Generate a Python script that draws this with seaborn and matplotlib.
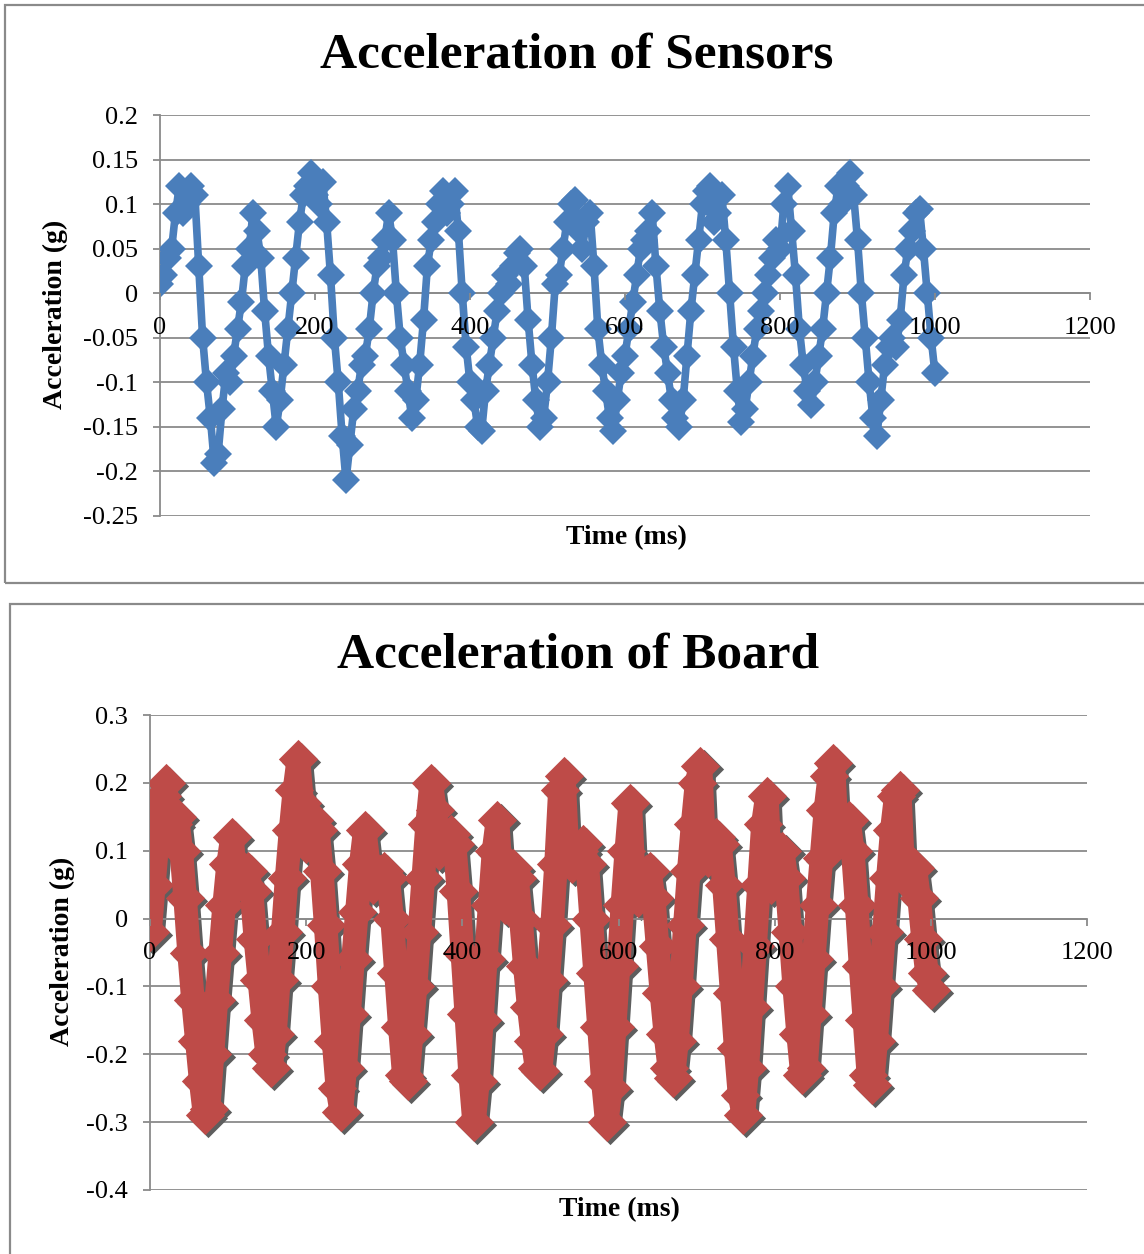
import numpy as np
import pandas as pd
import matplotlib
matplotlib.use("Agg")
import matplotlib.pyplot as plt
from matplotlib.patches import Rectangle
from matplotlib.collections import PathCollection
from matplotlib.transforms import ScaledTranslation
import seaborn as sns

# ---- data -------------------------------------------------------------
time_ms = np.arange(0, 1001, 5)

sensor_accel = [
    0.01, 0.02, 0.04, 0.05, 0.09, 0.12, 0.09, 0.10, 0.12, 0.11,
    0.03, -0.05, -0.10, -0.14, -0.19, -0.18, -0.13, -0.09, -0.10, -0.07,
    -0.04, -0.01, 0.03, 0.05, 0.09, 0.07, 0.04, -0.02, -0.07, -0.11,
    -0.15, -0.12, -0.08, -0.04, 0.00, 0.04, 0.08, 0.11, 0.12, 0.135,
    0.11, 0.10, 0.125, 0.08, 0.02, -0.05, -0.10, -0.16, -0.21, -0.17,
    -0.13, -0.11, -0.08, -0.07, -0.04, 0.00, 0.03, 0.04, 0.06, 0.09,
    0.06, 0.00, -0.05, -0.08, -0.11, -0.14, -0.12, -0.08, -0.03, 0.03,
    0.06, 0.08, 0.10, 0.115, 0.09, 0.10, 0.115, 0.07, 0.00, -0.06,
    -0.10, -0.12, -0.15, -0.155, -0.11, -0.08, -0.05, -0.02, 0.00, 0.02,
    0.01, 0.03, 0.045, 0.05, 0.03, -0.03, -0.08, -0.12, -0.15, -0.14,
    -0.10, -0.05, 0.01, 0.02, 0.05, 0.08, 0.10, 0.105, 0.07, 0.05,
    0.08, 0.09, 0.03, -0.04, -0.08, -0.11, -0.14, -0.155, -0.12, -0.09,
    -0.07, -0.04, -0.01, 0.02, 0.05, 0.06, 0.07, 0.09, 0.03, -0.02,
    -0.06, -0.09, -0.12, -0.14, -0.15, -0.12, -0.07, -0.02, 0.02, 0.06,
    0.10, 0.115, 0.12, 0.08, 0.09, 0.11, 0.06, 0.00, -0.06, -0.11,
    -0.145, -0.13, -0.10, -0.07, -0.04, -0.02, 0.00, 0.02, 0.04, 0.06,
    0.05, 0.10, 0.12, 0.07, 0.02, -0.04, -0.08, -0.11, -0.125, -0.10,
    -0.07, -0.04, 0.00, 0.04, 0.09, 0.12, 0.10, 0.12, 0.135, 0.11,
    0.06, 0.00, -0.05, -0.10, -0.14, -0.16, -0.12, -0.08, -0.06, -0.05,
    -0.06, -0.03, 0.02, 0.05, 0.07, 0.09, 0.095, 0.05, 0.00, -0.05,
    -0.09,
]

board_accel = [
    -0.02, 0.05, 0.12, 0.18, 0.20, 0.12, 0.14, 0.15, 0.10, 0.03,
    -0.05, -0.12, -0.18, -0.24, -0.29, -0.28, -0.20, -0.12, -0.05, 0.02,
    0.08, 0.12, 0.05, 0.06, 0.07, 0.07, 0.04, -0.03, -0.09, -0.15,
    -0.20, -0.22, -0.17, -0.09, -0.02, 0.06, 0.13, 0.19, 0.235, 0.17,
    0.11, 0.13, 0.145, 0.13, 0.07, -0.01, -0.10, -0.18, -0.25, -0.285,
    -0.22, -0.14, -0.06, 0.01, 0.08, 0.13, 0.08, 0.05, 0.06, 0.065,
    0.07, 0.06, 0.00, -0.08, -0.16, -0.23, -0.24, -0.17, -0.10, -0.02,
    0.06, 0.14, 0.20, 0.16, 0.10, 0.11, 0.12, 0.125, 0.11, 0.04,
    -0.05, -0.14, -0.23, -0.30, -0.24, -0.15, -0.06, 0.02, 0.10, 0.145,
    0.06, 0.02, 0.05, 0.075, 0.06, 0.00, -0.07, -0.13, -0.18, -0.22,
    -0.225, -0.17, -0.09, -0.01, 0.08, 0.19, 0.21, 0.09, 0.08, 0.09,
    0.10, 0.11, 0.08, 0.00, -0.08, -0.16, -0.24, -0.30, -0.25, -0.16,
    -0.07, 0.02, 0.10, 0.17, 0.05, 0.03, 0.05, 0.065, 0.07, 0.03,
    -0.04, -0.11, -0.17, -0.22, -0.235, -0.18, -0.10, -0.01, 0.07, 0.14,
    0.20, 0.225, 0.10, 0.09, 0.11, 0.12, 0.11, 0.05, -0.03, -0.11,
    -0.19, -0.26, -0.29, -0.22, -0.13, -0.04, 0.05, 0.14, 0.18, 0.05,
    0.08, 0.10, 0.10, 0.06, -0.02, -0.10, -0.17, -0.23, -0.22, -0.14,
    -0.06, 0.02, 0.09, 0.16, 0.21, 0.23, 0.12, 0.13, 0.14, 0.145,
    0.10, 0.02, -0.07, -0.15, -0.23, -0.245, -0.18, -0.10, -0.02, 0.06,
    0.13, 0.18, 0.19, 0.06, 0.07, 0.08, 0.075, 0.03, -0.03, -0.08,
    -0.105,
]

x_ticks = [0, 200, 400, 600, 800, 1000, 1200]
sensor_yticks = [0.2, 0.15, 0.1, 0.05, 0, -0.05, -0.1, -0.15, -0.2, -0.25]
sensor_ylabels = ["0.2", "0.15", "0.1", "0.05", "0", "-0.05", "-0.1", "-0.15", "-0.2", "-0.25"]
board_yticks = [0.3, 0.2, 0.1, 0, -0.1, -0.2, -0.3, -0.4]
board_ylabels = ["0.3", "0.2", "0.1", "0", "-0.1", "-0.2", "-0.3", "-0.4"]

sensors = pd.DataFrame({"Time (ms)": time_ms, "Acceleration (g)": sensor_accel})
board = pd.DataFrame({"Time (ms)": time_ms, "Acceleration (g)": board_accel})

# ---- style ------------------------------------------------------------
sns.set_theme(style="white")
plt.rcParams["font.family"] = ["Liberation Serif", "DejaVu Serif"]
plt.rcParams["text.color"] = "black"
GRID = "#8a8a8a"
BLUE = "#4a7ebb"
RED = "#be4b48"
SHADOW = "#5e5e5e"

W, H = 1144, 1254
fig = plt.figure(figsize=(W / 100, H / 100), dpi=100)
fig.patch.set_facecolor("white")

# chart frames
fig.patches.append(Rectangle((5 / W, 1 - 583 / H), 1.2, 578 / H, transform=fig.transFigure,
                             fill=False, ec=GRID, lw=1.6, zorder=0))
fig.patches.append(Rectangle((10 / W, -0.2), 1.2, 0.2 + 1 - 604 / H, transform=fig.transFigure,
                             fill=False, ec=GRID, lw=1.6, zorder=0))


def style_axes(ax, yticks, ylabels, ylim):
    ax.set_xlim(0, 1200)
    ax.set_ylim(*ylim)
    ax.set_xticks(x_ticks)
    ax.set_xticklabels([str(t) for t in x_ticks])
    ax.set_yticks(yticks)
    ax.set_yticklabels(ylabels)
    ax.set_facecolor("none")
    for s in ("top", "right"):
        ax.spines[s].set_visible(False)
    ax.spines["left"].set_color(GRID)
    ax.spines["left"].set_linewidth(1.3)
    ax.spines["bottom"].set_position(("data", 0))
    ax.spines["bottom"].set_color(GRID)
    ax.spines["bottom"].set_linewidth(1.3)
    ax.yaxis.grid(True, color=GRID, lw=1.3)
    ax.xaxis.grid(False)
    ax.set_axisbelow(True)
    # category labels along the zero line sit on top of the series
    ax.xaxis.set_zorder(5)
    ax.tick_params(axis="both", direction="out", length=5, width=1.3, color=GRID,
                   labelsize=19, labelcolor="black")
    ax.tick_params(axis="y", pad=11, left=True)
    ax.tick_params(axis="x", pad=12, bottom=True)
    ax.set_xlabel("")
    ax.set_ylabel("")


# ---- sensors chart ----------------------------------------------------
ax1 = fig.add_axes([160 / W, 1 - 516 / H, 930 / W, 401 / H])
sns.lineplot(data=sensors, x="Time (ms)", y="Acceleration (g)", ax=ax1, color=BLUE,
             lw=5.5, marker="D", markersize=14, markeredgewidth=0, zorder=3)
style_axes(ax1, sensor_yticks, sensor_ylabels, (-0.25, 0.2))

fig.text(577 / W, 1 - 55 / H, "Acceleration of Sensors", ha="center", va="center",
         fontsize=37, fontweight="bold")
fig.text(55 / W, 1 - 314 / H, "Acceleration (g)", ha="center", va="center",
         rotation=90, fontsize=20, fontweight="bold")
fig.text(626 / W, 1 - 538 / H, "Time (ms)", ha="center", va="center",
         fontsize=20, fontweight="bold")

# ---- board chart ------------------------------------------------------
ax2 = fig.add_axes([150 / W, 1 - 1190 / H, 937 / W, 475 / H])
shift = ax2.transData + ScaledTranslation(2.2 / 72, -2.2 / 72, fig.dpi_scale_trans)

# drop shadow: the same ribbon, offset down-right in a dark grey
sns.lineplot(data=board, x="Time (ms)", y="Acceleration (g)", ax=ax2, color=SHADOW,
             lw=17, zorder=2, solid_capstyle="round", solid_joinstyle="round")
sns.scatterplot(data=board, x="Time (ms)", y="Acceleration (g)", ax=ax2, color=SHADOW,
                marker="D", s=400, linewidth=0, zorder=2)
for line in ax2.lines:
    line.set_transform(shift)
for coll in ax2.collections:
    if isinstance(coll, PathCollection):
        coll.set_offset_transform(shift)

# the red ribbon of diamond markers
sns.lineplot(data=board, x="Time (ms)", y="Acceleration (g)", ax=ax2, color=RED,
             lw=17, zorder=3, solid_capstyle="round", solid_joinstyle="round")
sns.scatterplot(data=board, x="Time (ms)", y="Acceleration (g)", ax=ax2, color=RED,
                marker="D", s=400, linewidth=0, zorder=3)
style_axes(ax2, board_yticks, board_ylabels, (-0.4, 0.3))

fig.text(578 / W, 1 - 656 / H, "Acceleration of Board", ha="center", va="center",
         fontsize=37, fontweight="bold")
fig.text(62 / W, 1 - 951 / H, "Acceleration (g)", ha="center", va="center",
         rotation=90, fontsize=20, fontweight="bold")
fig.text(619 / W, 1 - 1210 / H, "Time (ms)", ha="center", va="center",
         fontsize=20, fontweight="bold")

fig.savefig("out.png", dpi=100)
